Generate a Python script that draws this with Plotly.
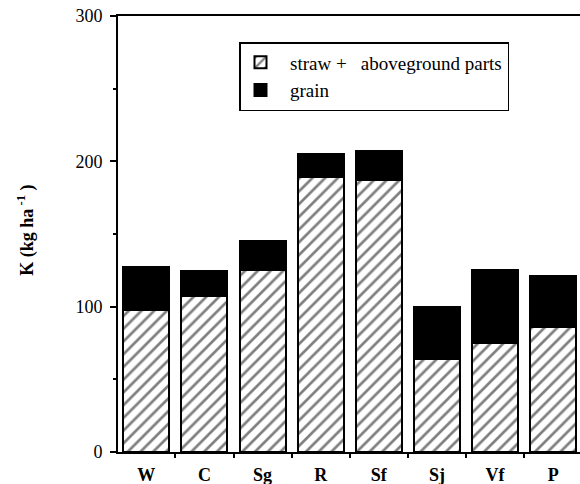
import plotly.graph_objects as go

categories = ["W", "C", "Sg", "R", "Sf", "Sj", "Vf", "P"]
straw = [97.5, 107, 125, 189, 187, 64, 75, 86]
grain = [29.5, 17.5, 20, 16, 20, 36, 50.5, 35]
y_tickvals = [0, 100, 200, 300]
series_names = ["\u00a0\u00a0straw +\u00a0\u00a0\u00a0aboveground parts", "\u00a0\u00a0grain"]
y_title = "K (kg ha<sup> -1</sup> )"

SERIF = "Liberation Serif"

W, H = 580, 484
L, R, T = 118, 0, 16
B = H - 451.7
plot_w = W - L - R
plot_h = H - T - B

fig = go.Figure()
fig.add_trace(go.Bar(
    x=categories, y=straw, name=series_names[0],
    width=0.79,
    marker=dict(color="white",
                pattern=dict(shape="/", fgcolor="black", bgcolor="white",
                             size=9, solidity=0.3, fillmode="overlay"),
                line=dict(color="black", width=2)),
))
fig.add_trace(go.Bar(
    x=categories, y=grain, name=series_names[1],
    width=0.79,
    marker=dict(color="black", line=dict(color="black", width=2)),
))

fig.update_layout(
    width=W, height=H,
    barmode="stack",
    plot_bgcolor="white", paper_bgcolor="white",
    margin=dict(l=L, r=R, t=T, b=B, pad=0),
    font=dict(family=SERIF, color="black", size=15),
    showlegend=True,
    legend=dict(
        x=(239 - L) / plot_w, y=1 - (42 - T) / plot_h,
        xanchor="left", yanchor="top",
        bordercolor="black", borderwidth=1.5,
        bgcolor="white",
        traceorder="normal",
        font=dict(family=SERIF, size=19, color="black"),
        tracegroupgap=0,
    ),
    xaxis=dict(
        range=[-0.487, 7.46],
        showline=True, linecolor="black", linewidth=2, mirror=True,
        ticks="outside", tickson="boundaries", ticklen=4, tickwidth=1.5,
        tickcolor="black",
        tickfont=dict(family=SERIF, size=18, weight="bold"),
        ticklabelstandoff=5,
        showgrid=False, zeroline=False,
    ),
    yaxis=dict(
        range=[0, 300],
        tickvals=y_tickvals,
        showline=True, linecolor="black", linewidth=2,
        ticks="outside", ticklen=6, tickwidth=1.5, tickcolor="black",
        minor=dict(dtick=50, ticks="outside", ticklen=3, tickcolor="black", tickwidth=1.5),
        tickfont=dict(family=SERIF, size=18),
        ticklabelstandoff=4,
        showgrid=False, zeroline=False,
    ),
    annotations=[dict(
        text="<b>" + y_title + "</b>",
        xref="paper", yref="paper",
        x=(26 - L) / plot_w, y=1 - (230.5 - T) / plot_h,
        xanchor="center", yanchor="middle",
        textangle=-90, showarrow=False,
        font=dict(family=SERIF, size=18, color="black"),
    )],
)

fig.write_html(
    "out.html",
    config={"displayModeBar": False},
    post_script="document.body.style.margin='0';document.body.style.overflow='hidden';",
)
